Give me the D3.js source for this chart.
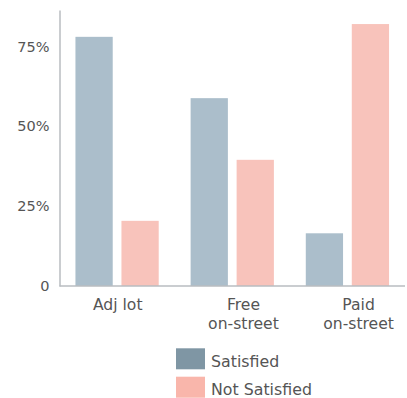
<!DOCTYPE html>
<html>
<head>
<meta charset="utf-8">
<script src="https://cdn.jsdelivr.net/npm/d3@7"></script>
<style>
  html, body { margin: 0; padding: 0; background: #ffffff; }
  svg { display: block; font-family: "DejaVu Sans", sans-serif; }
</style>
</head>
<body>
<svg id="chart" width="407" height="398"></svg>
<script>
// Parking satisfaction by parking type (share of respondents)
const categories = [["Adj lot"], ["Free", "on-street"], ["Paid", "on-street"]];
const seriesNames = ["Satisfied", "Not Satisfied"];
const satisfied = [0.780, 0.588, 0.165];
const notSatisfied = [0.204, 0.395, 0.820];
const yTicks = [0, 0.25, 0.5, 0.75];
const yTickLabels = ["0", "25%", "50%", "75%"];

const barColors = ["#abbecb", "#f8c3bb"];
const legendColors = ["#7f96a4", "#f9b6ab"];
const textColor = "#555555";
const axisColor = "#b8bcc1";

const svg = d3.select("#chart");
const plot = { left: 59.5, right: 405, top: 10, bottom: 286 };

const keys = categories.map(c => c.join(" "));
const rows = keys.map((k, i) => ({ key: k, lines: categories[i], values: [satisfied[i], notSatisfied[i]] }));

const x0 = d3.scaleBand().domain(keys).range([plot.left, plot.right])
  .paddingInner(0.277).paddingOuter(0.1385);
const x1 = d3.scaleBand().domain(seriesNames).range([0, x0.bandwidth()])
  .paddingInner(0.19).paddingOuter(0);
const y = d3.scaleLinear().domain([0, 0.864]).range([plot.bottom, plot.top]);

// bars
const groups = svg.append("g").selectAll("g").data(rows).join("g")
  .attr("transform", d => `translate(${x0(d.key)},0)`);
groups.selectAll("rect")
  .data(d => d.values.map((v, j) => ({ name: seriesNames[j], v, j })))
  .join("rect")
  .attr("x", d => x1(d.name))
  .attr("y", d => y(d.v))
  .attr("width", x1.bandwidth())
  .attr("height", d => y(0) - y(d.v))
  .attr("fill", d => barColors[d.j]);

// y axis: line plus labels, no tick marks
const yAxis = d3.axisLeft(y).tickValues(yTicks)
  .tickFormat((d, i) => yTickLabels[i]).tickSize(0).tickPadding(10);
const gy = svg.append("g").attr("transform", `translate(${plot.left},0)`).call(yAxis);
gy.select(".domain").attr("stroke", axisColor).attr("stroke-width", 1.5);
gy.selectAll("text").attr("fill", textColor).style("font-size", "14.5px")
  .attr("font-family", "DejaVu Sans");

// x baseline
svg.append("line")
  .attr("x1", plot.left).attr("x2", plot.right)
  .attr("y1", y(0)).attr("y2", y(0))
  .attr("stroke", axisColor).attr("stroke-width", 1.5);

// category labels: multi-line blocks, lines centred within each block
const labelGroups = svg.append("g").selectAll("g").data(rows).join("g");
labelGroups.each(function (d) {
  const g = d3.select(this);
  const texts = g.selectAll("text").data(d.lines).join("text")
    .attr("y", (l, i) => 310 + i * 18.5)
    .attr("fill", textColor)
    .style("font-size", "15.6px")
    .attr("text-anchor", "middle")
    .text(l => l);
  const w = d3.max(texts.nodes(), n => n.getComputedTextLength());
  const cx = x0(d.key) + x0.bandwidth() * 0.21 + w / 2;
  texts.attr("x", cx);
});

// legend
const legend = svg.append("g").selectAll("g").data(seriesNames).join("g")
  .attr("transform", (d, i) => `translate(176,${348.3 + i * 28.4})`);
legend.append("rect").attr("width", 29).attr("height", 21)
  .attr("fill", (d, i) => legendColors[i]);
legend.append("text").attr("x", 35).attr("y", 18.8)
  .attr("fill", textColor).style("font-size", "15.8px")
  .text(d => d);
</script>
</body>
</html>
